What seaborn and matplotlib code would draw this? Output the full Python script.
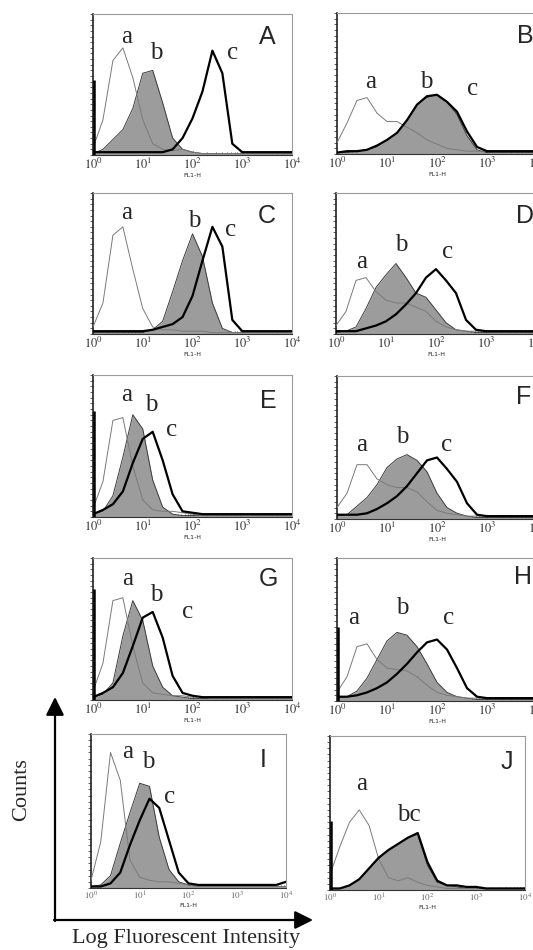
"""Flow cytometry overlays (panels A-J): log fluorescence vs counts."""
import matplotlib
matplotlib.use("Agg")
import matplotlib.pyplot as plt
from matplotlib.ticker import LogLocator, NullFormatter
import numpy as np
import seaborn as sns


# log10 channel positions shared by every histogram
X_LOG = [0.0, 0.2, 0.4, 0.6, 0.8, 1.0, 1.2, 1.4, 1.6, 1.8, 2.0,
         2.2, 2.4, 2.6, 2.8, 3.0, 3.2, 3.4, 3.6, 3.8, 4.0]

# counts as % of the panel height; a = thin line, b = filled, c = thick line
A_a = [5, 25, 67, 76, 55, 25, 8, 4, 3, 4, 2, 1, 1, 1, 1, 1, 1, 1, 1, 1, 1]
A_b = [1, 4, 11, 18, 33, 58, 60, 37, 12, 4, 2, 1, 1, 1, 1, 1, 1, 1, 1, 1, 1]
A_c = [2, 2, 2, 2, 2, 2, 2, 2, 4, 12, 26, 45, 74, 58, 8, 2, 2, 2, 2, 2, 2]

B_a = [8, 22, 38, 40, 29, 23, 23, 19, 15, 10, 7, 4, 3, 2, 2, 2, 2, 2, 2, 2, 2]
B_b = [1, 1, 2, 3, 5, 10, 15, 24, 35, 40, 42, 37, 28, 13, 3, 1, 1, 1, 1, 1, 1]
B_c = [1, 2, 2, 3, 6, 10, 15, 24, 35, 41, 42, 37, 30, 16, 5, 2, 2, 2, 2, 2, 2]

C_a = [5, 22, 70, 76, 46, 18, 5, 3, 3, 2, 2, 2, 1, 1, 1, 1, 1, 1, 1, 1, 1]
C_b = [1, 1, 1, 1, 1, 1, 3, 9, 30, 52, 71, 55, 22, 4, 1, 1, 1, 1, 1, 1, 1]
C_c = [2, 2, 2, 2, 2, 2, 3, 5, 7, 12, 27, 52, 76, 62, 10, 2, 2, 2, 2, 2, 2]

D_a = [6, 16, 38, 40, 30, 24, 22, 22, 19, 16, 9, 5, 3, 2, 2, 2, 2, 2, 2, 2, 2]
D_b = [1, 2, 5, 18, 33, 42, 50, 40, 29, 26, 17, 8, 3, 2, 1, 1, 1, 1, 1, 1, 1]
D_c = [2, 2, 2, 4, 6, 9, 14, 21, 29, 40, 46, 38, 29, 10, 3, 2, 2, 2, 2, 2, 2]

E_a = [6, 25, 68, 70, 36, 12, 5, 4, 4, 3, 2, 1, 1, 1, 1, 1, 1, 1, 1, 1, 1]
E_b = [2, 4, 15, 42, 72, 62, 26, 7, 2, 1, 1, 1, 1, 1, 1, 1, 1, 1, 1, 1, 1]
E_c = [2, 5, 9, 18, 38, 55, 60, 40, 16, 4, 3, 2, 2, 2, 2, 2, 2, 2, 2, 2, 2]

F_a = [8, 18, 38, 38, 28, 24, 22, 22, 19, 12, 6, 4, 3, 2, 2, 2, 2, 2, 2, 2, 2]
F_b = [2, 3, 9, 15, 24, 36, 42, 45, 41, 33, 18, 8, 4, 2, 1, 1, 1, 1, 1, 1, 1]
F_c = [3, 3, 3, 4, 7, 11, 16, 23, 32, 41, 43, 35, 26, 11, 3, 2, 2, 2, 2, 2, 2]

G_a = [6, 26, 70, 72, 38, 12, 5, 4, 3, 3, 2, 2, 1, 1, 1, 1, 1, 1, 1, 1, 1]
G_b = [2, 4, 12, 45, 70, 56, 24, 9, 3, 2, 1, 1, 1, 1, 1, 1, 1, 1, 1, 1, 1]
G_c = [2, 5, 9, 19, 38, 58, 62, 44, 17, 5, 3, 2, 2, 2, 2, 2, 2, 2, 2, 2, 2]

H_a = [6, 17, 38, 40, 29, 23, 22, 21, 17, 11, 6, 4, 3, 2, 2, 2, 2, 2, 2, 2, 2]
H_b = [2, 3, 7, 16, 29, 42, 48, 46, 38, 26, 13, 6, 3, 2, 1, 1, 1, 1, 1, 1, 1]
H_c = [3, 3, 4, 6, 9, 13, 19, 26, 34, 41, 43, 36, 23, 9, 3, 2, 2, 2, 2, 2, 2]

I_a = [5, 30, 88, 70, 18, 7, 5, 4, 4, 3, 2, 1, 1, 1, 1, 1, 1, 1, 1, 1, 1]
I_b = [1, 2, 8, 29, 49, 68, 66, 33, 12, 4, 2, 1, 1, 1, 1, 1, 1, 1, 1, 1, 1]
I_c = [1, 1, 3, 10, 28, 44, 58, 52, 31, 10, 3, 2, 2, 2, 2, 2, 2, 2, 2, 2, 4]

J_a = [10, 28, 44, 52, 42, 20, 8, 6, 8, 5, 3, 2, 1, 1, 1, 1, 1, 1, 1, 1, 1]
J_b = [1, 1, 3, 7, 14, 20, 26, 30, 34, 36, 16, 5, 3, 2, 1, 1, 1, 1, 1, 1, 1]
J_c = [1, 1, 3, 7, 14, 21, 26, 30, 34, 37, 18, 6, 3, 3, 2, 2, 1, 1, 1, 1, 1]

# height of the pile-up in the first channel (% of panel height)
FIRST_CHANNEL = {"A": 53, "B": 0, "C": 0, "D": 0, "E": 75,
                 "F": 0, "G": 78, "H": 52, "I": 0, "J": 45}

XTICK_VALUES = [1, 10, 100, 1000, 10000]
XTICK_LABELS = ["$10^{0}$", "$10^{1}$", "$10^{2}$", "$10^{3}$", "$10^{4}$"]
X_LABEL = "FL1-H"
Y_TITLE = "Counts"
X_TITLE = "Log Fluorescent Intensity"

# --- layout (pixels in a 533 x 950 canvas) ---
W, H = 533, 950
PANEL_BOX = {
    "A": (93, 14, 292, 155), "B": (337, 13, 537, 154),
    "C": (93, 193, 292, 334), "D": (336, 193, 536, 334),
    "E": (93, 375, 292, 517), "F": (337, 376, 537, 519),
    "G": (93, 558, 292, 700), "H": (337, 558, 537, 701),
    "I": (91, 734, 286, 888), "J": (330, 736, 525, 890),
}
# curve tags: (text, log10 x, y %)
TAG_POS = {
    "A": [("a", 0.67, 84), ("b", 1.27, 72), ("c", 2.8, 72)],
    "B": [("a", 0.67, 51), ("b", 1.79, 51), ("c", 2.71, 46)],
    "C": [("a", 0.67, 86), ("b", 2.03, 80), ("c", 2.77, 74)],
    "D": [("a", 0.52, 51), ("b", 1.3, 63), ("c", 2.23, 58)],
    "E": [("a", 0.67, 86), ("b", 1.17, 79), ("c", 1.57, 61)],
    "F": [("a", 0.5, 52), ("b", 1.3, 57), ("c", 2.2, 52)],
    "G": [("a", 0.7, 85), ("b", 1.27, 74), ("c", 1.9, 62)],
    "H": [("a", 0.33, 58), ("b", 1.3, 65), ("c", 2.23, 58)],
    "I": [("a", 0.76, 88), ("b", 1.17, 82), ("c", 1.62, 59)],
    "J": [("a", 0.65, 69), ("bc", 1.61, 49)],
}
LETTER_POS = {
    "A": (3.5, 84), "B": (3.76, 84), "C": (3.5, 84), "D": (3.77, 84),
    "E": (3.53, 82), "F": (3.73, 85), "G": (3.53, 85), "H": (3.73, 87),
    "I": (3.53, 83), "J": (3.63, 83),
}
FILL = "#9c9c9c"


def add_panel(fig, box):
    left, top, right, bottom = box
    return fig.add_axes([left / W, 1 - bottom / H,
                         (right - left) / W, (bottom - top) / H])


def draw_panel(ax, name, curves):
    a, b, c = curves
    small = name in ("I", "J")
    x = np.power(10.0, X_LOG)

    ax.set_xscale("log")
    ax.fill_between(x, 0, b, color=FILL, lw=0, zorder=1)
    sns.lineplot(x=x, y=b, ax=ax, color="#3c3c3c", lw=0.7, zorder=2)
    sns.lineplot(x=x, y=a, ax=ax, color="#7a7a7a", lw=0.7, zorder=3)
    sns.lineplot(x=x, y=c, ax=ax, color="black", lw=1.6, zorder=4)
    if FIRST_CHANNEL[name]:
        ax.vlines(1.05, 0, FIRST_CHANNEL[name], color="black", lw=1.8, zorder=5)

    ax.set_xlim(1, 1e4)
    ax.set_ylim(0, 100)
    ax.set_xticks(XTICK_VALUES)
    ax.set_xticklabels(XTICK_LABELS)
    ax.xaxis.set_minor_locator(LogLocator(base=10, subs=range(2, 10)))
    ax.xaxis.set_minor_formatter(NullFormatter())
    ax.tick_params(axis="x", which="major", direction="in", length=3, width=0.6,
                   labelsize=6.5 if small else 9, pad=1.5,
                   labelcolor="#666" if small else "#333")
    ax.tick_params(axis="x", which="minor", direction="in", length=2, width=0.5)
    ax.set_yticks(np.arange(0, 101, 4))
    ax.set_yticklabels([])
    ax.tick_params(axis="y", direction="out", length=2, width=0.5)
    ax.set_xlabel(X_LABEL, fontsize=4.5, labelpad=0.3, family="DejaVu Sans")
    ax.set_ylabel("")

    for side in ("top", "right"):
        ax.spines[side].set_color("#9a9a9a")
        ax.spines[side].set_linewidth(0.8)
    ax.spines["left"].set_color("#222")
    ax.spines["left"].set_linewidth(1.2)
    ax.spines["bottom"].set_color("#333")
    ax.spines["bottom"].set_linewidth(0.8)

    for txt, lx, ly in TAG_POS[name]:
        ax.text(10 ** lx, ly, txt, fontsize=18, family="Liberation Serif",
                ha="center", va="center", zorder=6)
    lx, ly = LETTER_POS[name]
    ax.text(10 ** lx, ly, name, fontsize=18, family="Liberation Sans",
            ha="center", va="center", zorder=6)


def main():
    sns.set_style("ticks")
    plt.rcParams["font.family"] = ["DejaVu Sans"]
    plt.rcParams["mathtext.fontset"] = "stix"

    panels = {
        "A": (A_a, A_b, A_c), "B": (B_a, B_b, B_c),
        "C": (C_a, C_b, C_c), "D": (D_a, D_b, D_c),
        "E": (E_a, E_b, E_c), "F": (F_a, F_b, F_c),
        "G": (G_a, G_b, G_c), "H": (H_a, H_b, H_c),
        "I": (I_a, I_b, I_c), "J": (J_a, J_b, J_c),
    }

    fig = plt.figure(figsize=(W / 100, H / 100), dpi=100)
    fig.patch.set_facecolor("white")

    # overall axis arrows and titles, drawn in pixel coordinates
    over = fig.add_axes([0, 0, 1, 1], zorder=-1)
    over.set_xlim(0, W)
    over.set_ylim(H, 0)
    over.axis("off")
    arrow = dict(arrowstyle="-|>,head_length=1.0,head_width=0.5", lw=1.6,
                 color="black", mutation_scale=11, shrinkA=0, shrinkB=0)
    over.annotate("", xy=(55, 697), xytext=(55, 921), arrowprops=arrow)
    over.annotate("", xy=(313, 920), xytext=(54, 920), arrowprops=arrow)
    over.text(22, 790, Y_TITLE, rotation=90, fontsize=16,
              family="Liberation Serif", ha="center", va="center")
    over.text(186, 938, X_TITLE, fontsize=16, family="Liberation Serif",
              ha="center", va="center")

    for name, curves in panels.items():
        ax = add_panel(fig, PANEL_BOX[name])
        draw_panel(ax, name, curves)

    fig.savefig("out.png", dpi=100)
    plt.close(fig)


if __name__ == "__main__":
    main()
